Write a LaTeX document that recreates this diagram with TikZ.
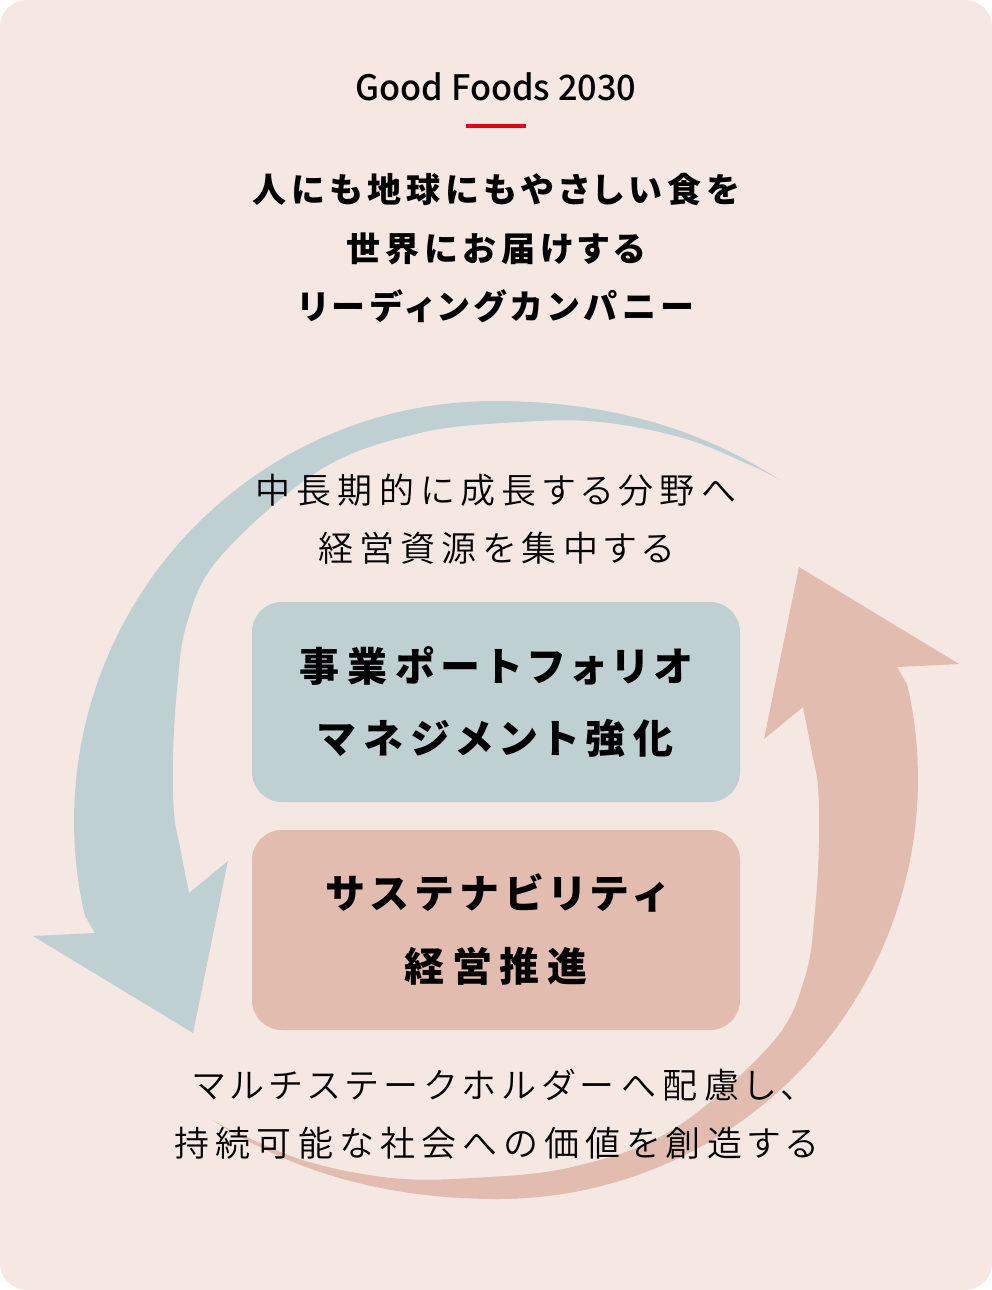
\documentclass[tikz,border=0pt]{standalone}
\usepackage{fontspec}
\usepackage{xcolor}
\setmainfont{Noto Sans CJK JP}
\IfFontExistsTF{Noto Sans CJK JP DemiLight}
    {\newfontfamily\jpbody[RawFeature={+palt},LetterSpace=18]{Noto Sans CJK JP DemiLight}}
    {\newfontfamily\jpbody[RawFeature={+palt},LetterSpace=18]{Noto Sans CJK JP}}
\newfontfamily\jphead[RawFeature={+palt},LetterSpace=15]{Noto Sans CJK JP}
\newfontfamily\jpbox[RawFeature={+palt},LetterSpace=19]{Noto Sans CJK JP}
\IfFontExistsTF{Noto Sans CJK JP Medium}
    {\newfontfamily\latintitle[FakeStretch=0.98]{Noto Sans CJK JP Medium}}
    {\newfontfamily\latintitle[FakeStretch=0.98]{Noto Sans CJK JP}}
\definecolor{bgpink}{HTML}{F5E7E2}
\definecolor{cycleblue}{HTML}{BFD0D2}
\definecolor{cyclepink}{HTML}{E2BDAF}
\definecolor{accentred}{HTML}{E60012}

\begin{document}
\begin{tikzpicture}[x=1pt,y=-1pt,
    headline/.style={inner sep=0pt,font=\jphead\bfseries\fontsize{34}{40}\selectfont},
    bodyline/.style={inner sep=0pt,font=\jpbody\fontsize{35}{40}\selectfont},
    boxline/.style={inner sep=0pt,font=\jpbox\bfseries\fontsize{40}{46}\selectfont},
    themebox/.style={rounded corners=30pt,minimum width=488pt,minimum height=200pt,inner sep=0pt}]
    \useasboundingbox (0,0) rectangle (992,1290);
    \fill[white] (0,0) rectangle (992,1290);
    \fill[bgpink,rounded corners=27pt] (0,0) rectangle (992,1290);
    % cycle arrows, the second one turned half round
    \foreach \ang/\col in {0/cycleblue,180/cyclepink}
        \fill[\col,rotate around={\ang:(496,800)}]
            (780,480) .. controls (710,435) and (620,401) .. (494,401)
            -- plot[domain=90:193,samples=60] ({494+420*cos(\x)},{821-420*sin(\x)})
            -- (95,933) -- (33,936) -- (193,1033) -- (228,861) -- (189,893)
            -- plot[smooth,tension=0.6] coordinates {(189,893) (180,847) (174,813) (173,757) (177,690) (187,623) (220,557) (320,470) (420,433) (520,422) (600,422) (683,438) (750,465) (780,480)}
            -- cycle;
    % title
    \node[inner sep=0pt,font=\latintitle\fontsize{35}{40}\selectfont] (title) at (496,87) {Good Foods 2030};
    \draw[accentred,line width=4pt] (466,126) -- (526,126);
    \node[headline] (vision1) at (496,190) {人にも地球にもやさしい食を};
    \node[headline] (vision2) at (496,249) {世界にお届けする};
    \node[headline] (vision3) at (496,306) {リーディングカンパニー};
    % upper text
    \node[bodyline] (focus1) at (496,490) {中長期的に成長する分野へ};
    \node[bodyline] (focus2) at (496,548) {経営資源を集中する};
    % boxes
    \node[themebox,fill=cycleblue] (portfolio) at (496,702) {};
    \node[boxline] (portfolio1) at (496,666) {事業ポートフォリオ};
    \node[boxline] (portfolio2) at (496,738) {マネジメント強化};
    \node[themebox,fill=cyclepink] (sustain) at (496,930) {};
    \node[boxline] (sustain1) at (496,893) {サステナビリティ};
    \node[boxline] (sustain2) at (496,966) {経営推進};
    % lower text
    \node[bodyline] (value1) at (496,1085) {マルチステークホルダーへ配慮し、};
    \node[bodyline] (value2) at (496,1143) {持続可能な社会への価値を創造する};
\end{tikzpicture}
\end{document}
